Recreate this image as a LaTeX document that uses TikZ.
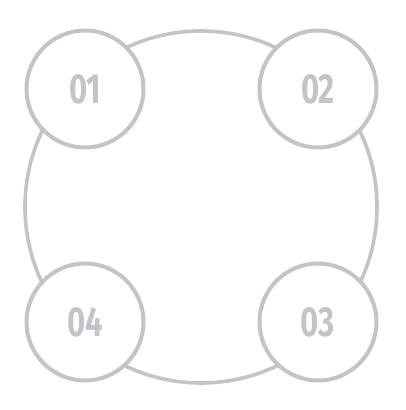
\documentclass[tikz,border=0pt]{standalone}
\usepackage{fontspec}
\setmainfont{Fira Sans}
\usepackage{xcolor}
\usetikzlibrary{positioning}
\definecolor{ringgray}{HTML}{C4C3C9}

\begin{document}
\begin{tikzpicture}[
  x=1pt, y=-1pt,
  ring/.style={draw=ringgray, line width=3.6pt, circle, minimum size=352pt, inner sep=0pt},
  bubble/.style={draw=ringgray, line width=4pt, circle, fill=white, minimum size=117pt, inner sep=0pt,
    font=\fontsize{42}{42}\selectfont\bfseries, text=ringgray}
]
\useasboundingbox (0,0) rectangle (405,410);
\node[ring] (big) at (201,207) {};
\node[bubble] (b1) at (85,89) {\scalebox{0.74}[1]{01}};
\node[bubble] (b2) at (318,89) {\scalebox{0.74}[1]{02}};
\node[bubble] (b3) at (318,322) {\scalebox{0.74}[1]{03}};
\node[bubble] (b4) at (85,322) {\scalebox{0.74}[1]{04}};
\end{tikzpicture}
\end{document}
